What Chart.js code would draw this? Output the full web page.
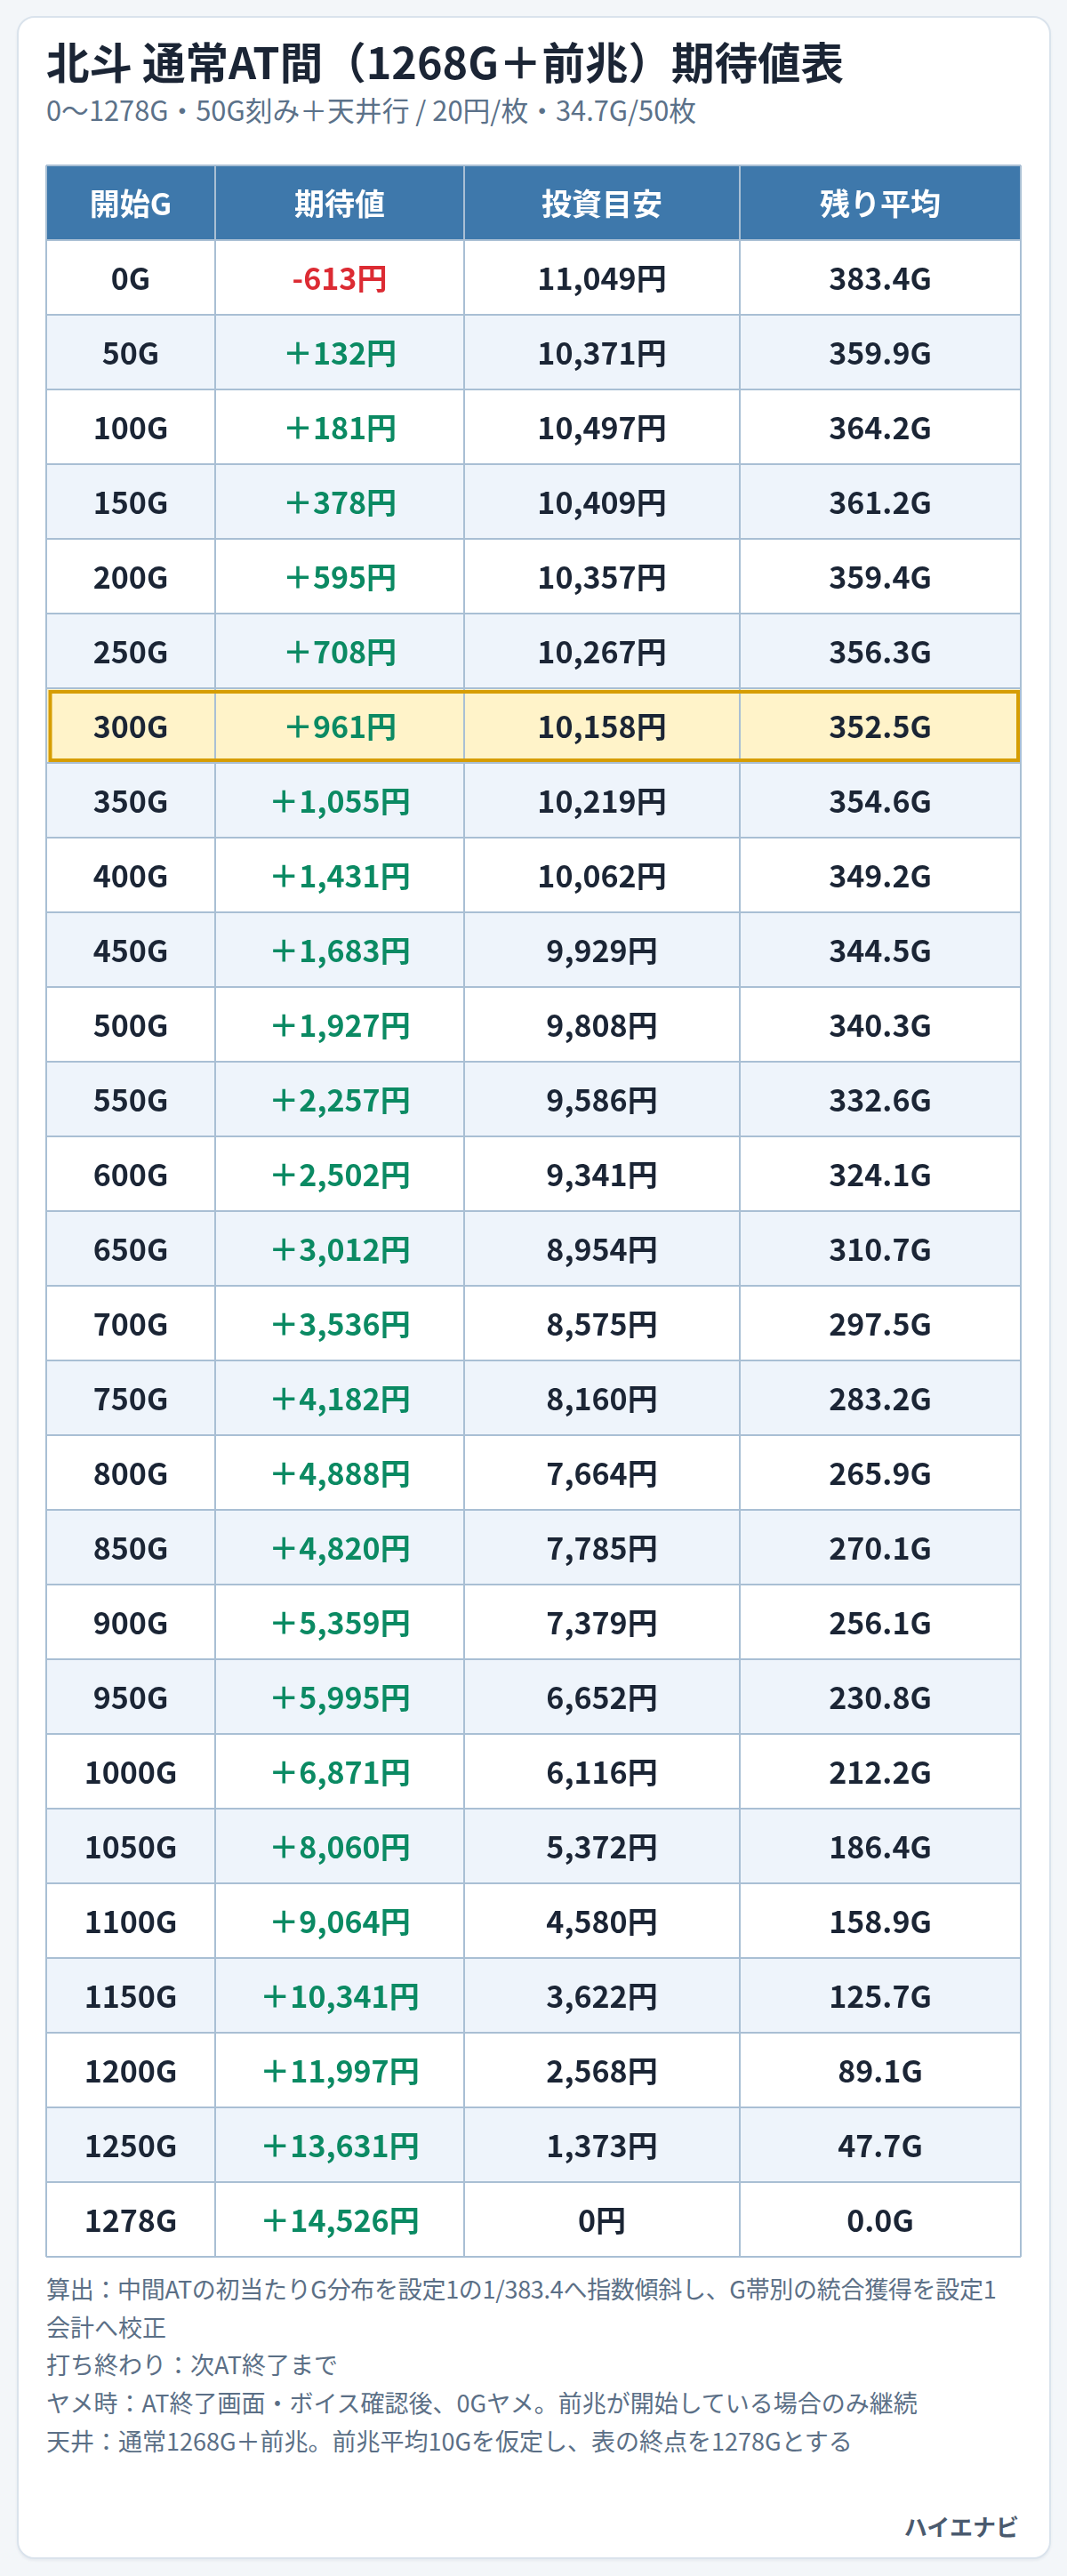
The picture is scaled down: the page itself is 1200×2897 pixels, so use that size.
<!DOCTYPE html>
<html lang="ja">
<head>
<meta charset="utf-8">
<title>北斗 通常AT間 期待値表</title>
<script src="https://cdn.jsdelivr.net/npm/chart.js@4.4.1/dist/chart.umd.min.js"></script>
<style>
  html, body { margin: 0; padding: 0; }
  body { width: 1200px; height: 2897px; background: #f3f6f9; position: relative; overflow: hidden;
         font-family: "Noto Sans CJK JP", "Noto Sans", sans-serif; text-spacing-trim: space-all; }
  .card { position: absolute; left: 19px; top: 18px; width: 1163px; height: 2860px; box-sizing: border-box;
          background: #ffffff; border: 2px solid #dae3ec; border-radius: 20px;
          box-shadow: 0 2px 3px rgba(30, 50, 80, 0.06); }
  .title { position: absolute; left: 52px; top: 44px; font-size: 48.5px; font-weight: 700; line-height: 1;
           color: #1b2535; white-space: nowrap; }
  .subtitle { position: absolute; left: 52px; top: 108px; font-size: 30.8px; font-weight: 400; line-height: 1;
              color: #5b7189; white-space: nowrap; }
  .chartbox { position: absolute; left: 50px; top: 184px; width: 1100px; height: 2356px; }
  .notes { position: absolute; left: 52px; top: 2553px; font-size: 27px; line-height: 42.7px; color: #5b6f86; }
  .notes div { white-space: nowrap; }
  .notes .tight { letter-spacing: -0.3px; }
  .brand { position: absolute; right: 54px; top: 2828px; font-size: 26px; font-weight: 700; line-height: 1; color: #4a5a6e; }
</style>
</head>
<body>
<div class="card"></div>
<div class="title">北斗 通常AT間（1268G＋前兆）期待値表</div>
<div class="subtitle">0〜1278G・50G刻み＋天井行 / 20円/枚・34.7G/50枚</div>
<div class="chartbox"><canvas id="tbl"></canvas></div>
<div class="notes">
  <div class="tight">算出：中間ATの初当たりG分布を設定1の1/383.4へ指数傾斜し、G帯別の統合獲得を設定1</div>
  <div>会計へ校正</div>
  <div>打ち終わり：次AT終了まで</div>
  <div>ヤメ時：AT終了画面・ボイス確認後、0Gヤメ。前兆が開始している場合のみ継続</div>
  <div>天井：通常1268G＋前兆。前兆平均10Gを仮定し、表の終点を1278Gとする</div>
</div>
<div class="brand">ハイエナビ</div>

<script>
// ---- data ----
const headers = ['開始G', '期待値', '投資目安', '残り平均'];
const startG = [0, 50, 100, 150, 200, 250, 300, 350, 400, 450, 500, 550, 600, 650, 700, 750, 800, 850, 900, 950, 1000, 1050, 1100, 1150, 1200, 1250, 1278];
const expectedYen = [-613, 132, 181, 378, 595, 708, 961, 1055, 1431, 1683, 1927, 2257, 2502, 3012, 3536, 4182, 4888, 4820, 5359, 5995, 6871, 8060, 9064, 10341, 11997, 13631, 14526];
const investYen = [11049, 10371, 10497, 10409, 10357, 10267, 10158, 10219, 10062, 9929, 9808, 9586, 9341, 8954, 8575, 8160, 7664, 7785, 7379, 6652, 6116, 5372, 4580, 3622, 2568, 1373, 0];
const remainG = [383.4, 359.9, 364.2, 361.2, 359.4, 356.3, 352.5, 354.6, 349.2, 344.5, 340.3, 332.6, 324.1, 310.7, 297.5, 283.2, 265.9, 270.1, 256.1, 230.8, 212.2, 186.4, 158.9, 125.7, 89.1, 47.7, 0.0];
const highlightG = 300;

// ---- layout/style (not data) ----
const colEdges = [0, 190, 470, 780, 1096];
const C = {
  header: '#3e78ab', white: '#ffffff', alt: '#eef4fb', hi: '#fff3c9', hiBorder: '#d69d02',
  grid: '#a9bfd4', text: '#1b2535', green: '#0b8a63', red: '#dc2b33', headText: '#ffffff'
};

const fmtInt = v => v.toLocaleString('en-US');
const rowLabels = ['header'].concat(startG.map(g => g + 'G'));
const cellText = [headers].concat(startG.map((g, i) => [
  g + 'G',
  (expectedYen[i] < 0 ? '-' + fmtInt(-expectedYen[i]) : '＋' + fmtInt(expectedYen[i])) + '円',
  fmtInt(investYen[i]) + '円',
  remainG[i].toFixed(1) + 'G'
]));
const hiRow = 1 + startG.indexOf(highlightG);
const rowBg = rowLabels.map((_, r) => r === 0 ? C.header : (r === hiRow ? C.hi : ((r - 1) % 2 === 1 ? C.alt : C.white)));

const tablePlugin = {
  id: 'tableCells',
  afterDraw(chart) {
    const ctx = chart.ctx;
    const xs = chart.scales.x, ys = chart.scales.y;
    const meta = chart.getDatasetMeta(0);
    // highlight border
    const bar = meta.data[hiRow];
    if (bar) {
      const p = bar.getProps(['x', 'y', 'base', 'height'], true);
      const top = p.y - p.height / 2, bottom = p.y + p.height / 2;
      ctx.save();
      ctx.strokeStyle = C.hiBorder;
      ctx.lineWidth = 4;
      ctx.strokeRect(p.base + 3.5, top + 4, (p.x - 3) - (p.base + 3.5), (bottom - 3) - (top + 4));
      ctx.restore();
    }
    // texts
    ctx.save();
    ctx.textAlign = 'center';
    ctx.textBaseline = 'middle';
    cellText.forEach((row, r) => {
      const y = ys.getPixelForValue(r);
      row.forEach((txt, c) => {
        const x = xs.getPixelForValue((colEdges[c] + colEdges[c + 1]) / 2);
        let color = C.text;
        if (r === 0) color = C.headText;
        else if (c === 1) color = expectedYen[r - 1] < 0 ? C.red : C.green;
        ctx.fillStyle = color;
        ctx.font = '700 34px "Noto Sans CJK JP"';
        ctx.fillText(txt, x, y + 1);
      });
    });
    ctx.restore();
  }
};

new Chart(document.getElementById('tbl'), {
  type: 'bar',
  data: {
    labels: rowLabels,
    datasets: [{
      data: rowLabels.map(() => [colEdges[0], colEdges[colEdges.length - 1]]),
      backgroundColor: rowBg,
      borderWidth: 0,
      barPercentage: 1,
      categoryPercentage: 1
    }]
  },
  options: {
    indexAxis: 'y',
    responsive: true,
    maintainAspectRatio: false,
    animation: false,
    events: [],
    layout: { padding: { left: 2, right: 2, top: 2, bottom: 2 } },
    plugins: { legend: { display: false }, tooltip: { enabled: false }, title: { display: false } },
    scales: {
      x: {
        type: 'linear', min: colEdges[0], max: colEdges[colEdges.length - 1],
        afterBuildTicks: axis => { axis.ticks = colEdges.map(v => ({ value: v })); },
        ticks: { display: false },
        grid: { color: C.grid, lineWidth: 2, drawTicks: false, z: 1 },
        border: { display: false }
      },
      y: {
        type: 'category',
        ticks: { display: false },
        grid: { color: C.grid, lineWidth: 2, drawTicks: false, offset: true, z: 1 },
        border: { display: false }
      }
    }
  },
  plugins: [tablePlugin]
});
</script>
</body>
</html>
